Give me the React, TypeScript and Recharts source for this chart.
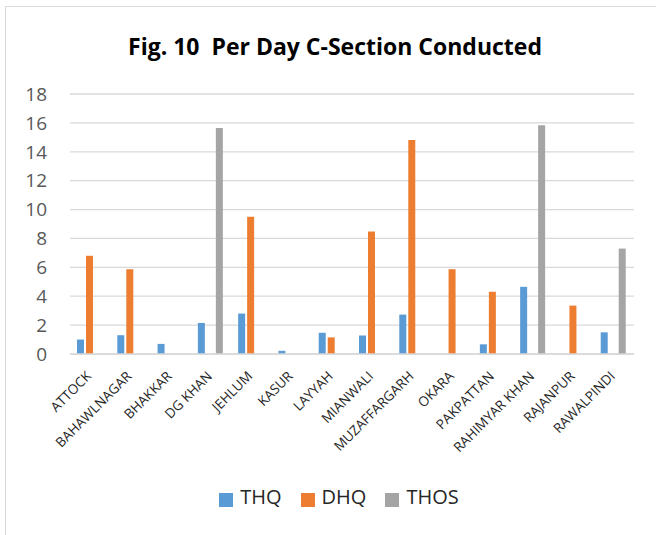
import React from "react";
import {
  BarChart,
  Bar,
  XAxis,
  YAxis,
  CartesianGrid,
  Legend,
} from "recharts";

const districts = [
  "ATTOCK",
  "BAHAWLNAGAR",
  "BHAKKAR",
  "DG KHAN",
  "JEHLUM",
  "KASUR",
  "LAYYAH",
  "MIANWALI",
  "MUZAFFARGARH",
  "OKARA",
  "PAKPATTAN",
  "RAHIMYAR KHAN",
  "RAJANPUR",
  "RAWALPINDI",
];

// per day C-sections
const thq = [1.0, 1.3, 0.7, 2.15, 2.8, 0.22, 1.47, 1.28, 2.73, 0, 0.67, 4.65, 0, 1.5];
const dhq = [6.8, 5.87, 0, 0, 9.5, 0, 1.15, 8.48, 14.82, 5.87, 4.31, 0, 3.35, 0];
const thos = [0, 0, 0, 15.65, 0, 0, 0, 0, 0, 0, 0, 15.83, 0, 7.3];

const seriesOrder = ["THQ", "DHQ", "THOS"];
const yTicks = [0, 2, 4, 6, 8, 10, 12, 14, 16, 18];

const data = districts.map((name, i) => ({
  name,
  THQ: thq[i],
  DHQ: dhq[i],
  THOS: thos[i],
}));

const font = "'Open Sans', sans-serif";

const DistrictTick = (props: any) => {
  const { x, y, payload } = props;
  return (
    <g transform={`translate(${x + 2},${y + 21})`}>
      <text
        x={0}
        y={0}
        textAnchor="end"
        transform="rotate(-45)"
        fill="#262626"
        fontSize={13.5}
        fontFamily={font}
      >
        {payload.value}
      </text>
    </g>
  );
};

const legendLabel = (value: string) => (
  <span style={{ color: "#262626", fontSize: 20, fontFamily: font, paddingLeft: 3, paddingRight: 9 }}>
    {value}
  </span>
);

export default function App() {
  return (
    <div style={{ position: "absolute", left: 0, top: 0, width: 656, height: 535, background: "#fff" }}>
      <div
        style={{
          position: "absolute",
          left: 5,
          top: 6,
          width: 660,
          height: 540,
          borderTop: "1.5px solid #d9d9d9",
          borderLeft: "1.5px solid #d9d9d9",
        }}
      />
      <div
        style={{
          position: "absolute",
          left: 0,
          width: 670,
          top: 30,
          textAlign: "center",
          fontFamily: font,
          fontWeight: 700,
          fontSize: 23,
          color: "#000",
          whiteSpace: "pre",
        }}
      >
        {"Fig. 10  Per Day C-Section Conducted"}
      </div>
      <div style={{ position: "absolute", left: 0, top: 0 }}>
        <BarChart
          width={656}
          height={535}
          data={data}
          margin={{ top: 94, right: 22, left: 0, bottom: 24 }}
          barCategoryGap={7}
          barGap={2}
        >
          <CartesianGrid vertical={false} stroke="#d9d9d9" strokeWidth={1.3} />
          <XAxis
            dataKey="name"
            interval={0}
            height={131}
            tickLine={false}
            tickSize={0}
            axisLine={{ stroke: "#d9d9d9", strokeWidth: 1.3 }}
            tick={<DistrictTick />}
          />
          <YAxis
            width={70}
            domain={[0, 18]}
            ticks={yTicks}
            axisLine={false}
            tickLine={false}
            tickSize={0}
            tickMargin={23}
            tick={{ fill: "#595959", fontSize: 19, fontFamily: font }}
          />
          <Legend
            verticalAlign="bottom"
            iconType="square"
            iconSize={14}
            formatter={legendLabel}
            itemSorter={(item: any) => seriesOrder.indexOf(item.value)}
            wrapperStyle={{ left: 41, width: 615, lineHeight: "24px" }}
          />
          <Bar dataKey="THQ" fill="#5b9bd5" isAnimationActive={false} />
          <Bar dataKey="DHQ" fill="#ed7d31" isAnimationActive={false} />
          <Bar dataKey="THOS" fill="#a5a5a5" isAnimationActive={false} />
        </BarChart>
      </div>
    </div>
  );
}
